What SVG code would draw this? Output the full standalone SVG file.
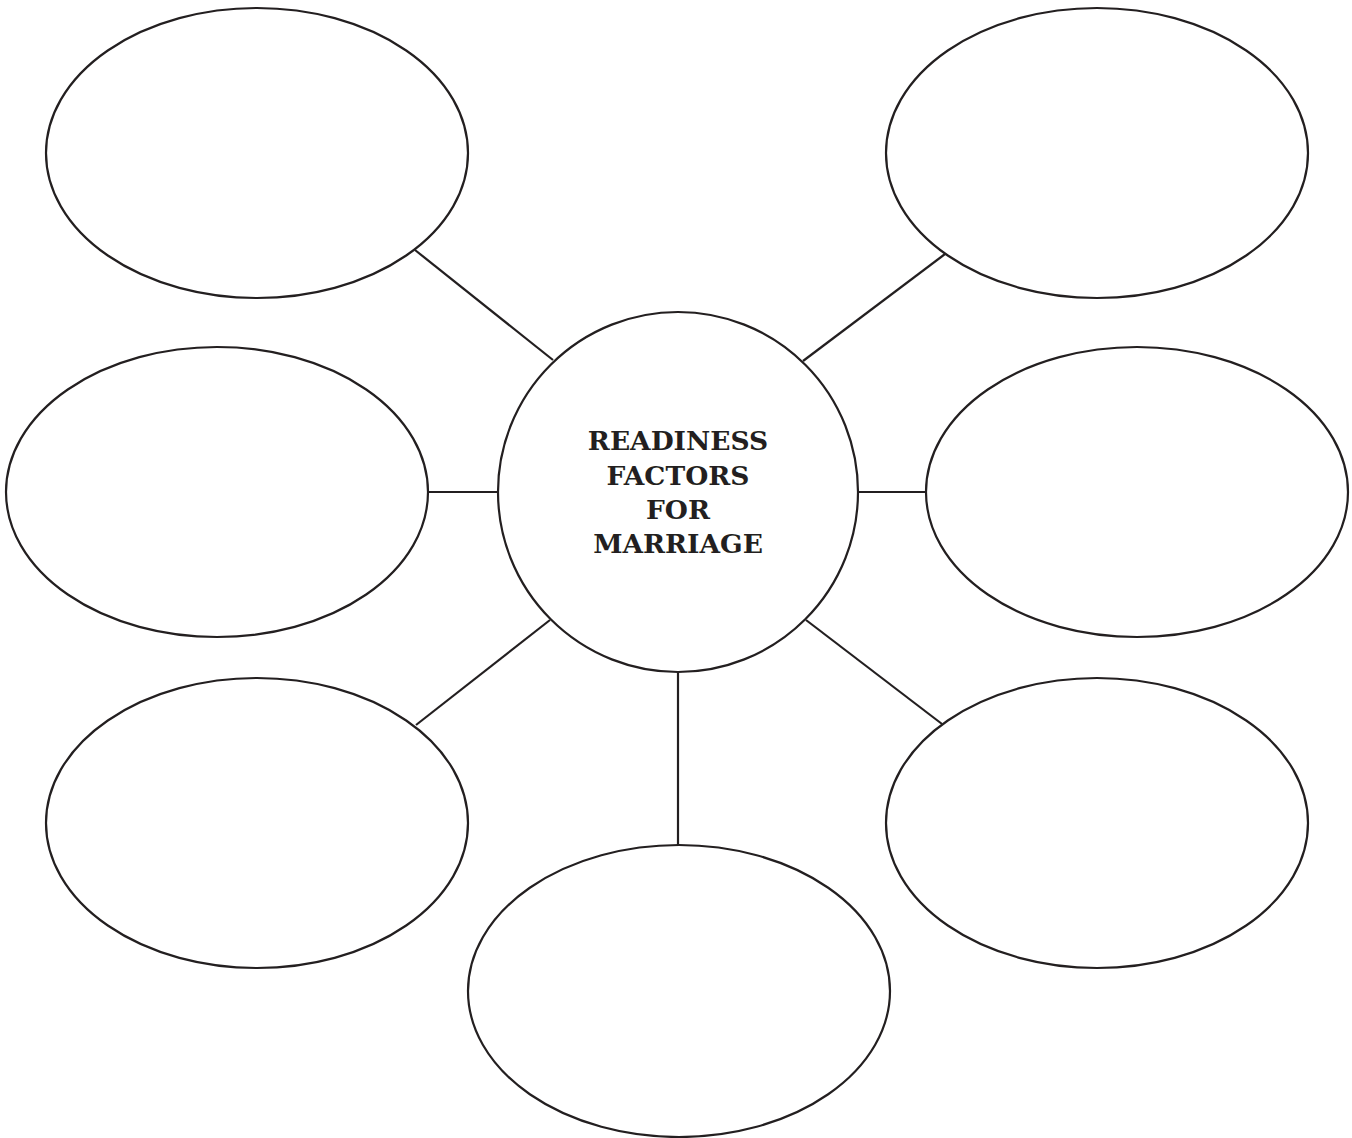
<svg xmlns="http://www.w3.org/2000/svg" width="1352" height="1138" viewBox="0 0 1352 1138">
<style>
.n{fill:#fff;stroke:#231f20;stroke-width:2.2}
.c{stroke:#231f20;stroke-width:2.2;fill:none}
.t{font-family:"DejaVu Serif","Liberation Serif",serif;font-weight:bold;font-size:26.5px;fill:#231f20;text-anchor:middle}
</style>
<rect width="1352" height="1138" fill="#fff"/>
<g id="connectors">
<line class="c" x1="415" y1="250" x2="553" y2="360"/>
<line class="c" x1="945" y1="254" x2="803" y2="361"/>
<line class="c" x1="428" y1="492" x2="498" y2="492"/>
<line class="c" x1="858" y1="492" x2="927" y2="492"/>
<line class="c" x1="416" y1="725" x2="550" y2="620"/>
<line class="c" x1="942" y1="724" x2="806" y2="620"/>
<line class="c" x1="678" y1="672" x2="678" y2="846"/>
</g>
<g id="center"><circle class="n" cx="678" cy="492" r="180"/>
<text class="t" x="678" y="450">READINESS</text>
<text class="t" x="678" y="485">FACTORS</text>
<text class="t" x="678" y="519">FOR</text>
<text class="t" x="678" y="553">MARRIAGE</text>
</g>
<g id="tl"><ellipse class="n" cx="257" cy="153" rx="211" ry="145"/></g>
<g id="tr"><ellipse class="n" cx="1097" cy="153" rx="211" ry="145"/></g>
<g id="ml"><ellipse class="n" cx="217" cy="492" rx="211" ry="145"/></g>
<g id="mr"><ellipse class="n" cx="1137" cy="492" rx="211" ry="145"/></g>
<g id="bl"><ellipse class="n" cx="257" cy="823" rx="211" ry="145"/></g>
<g id="br"><ellipse class="n" cx="1097" cy="823" rx="211" ry="145"/></g>
<g id="b"><ellipse class="n" cx="679" cy="991" rx="211" ry="146"/></g>
</svg>
